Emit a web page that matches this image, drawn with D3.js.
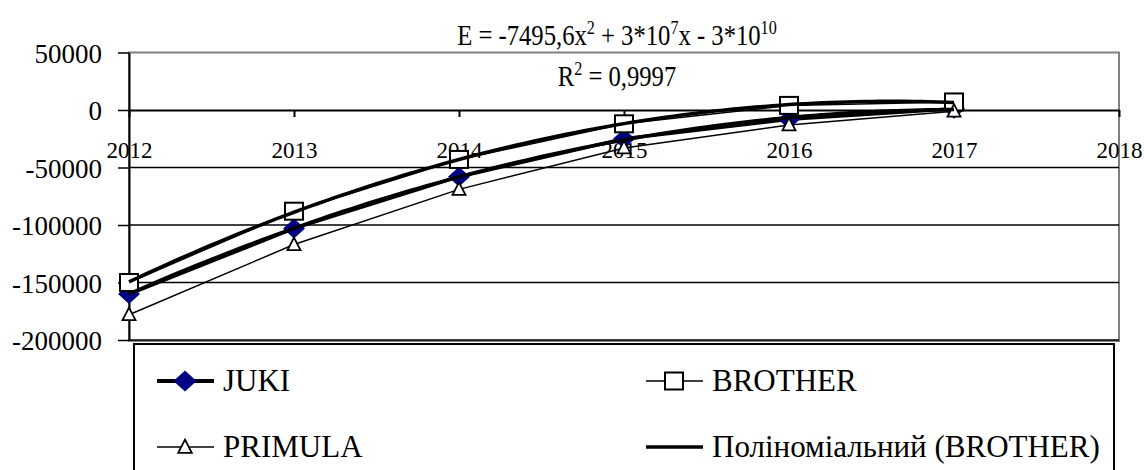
<!DOCTYPE html>
<html>
<head>
<meta charset="utf-8">
<script src="https://cdn.jsdelivr.net/npm/d3@7"></script>
</head>
<body style="margin:0;background:#fff">
<svg id="chart" width="1144" height="470" style="display:block"></svg>
<script>
const years = [2012, 2013, 2014, 2015, 2016, 2017]
const juki = [-160000, -103000, -58000, -25000, -8000, 1000]
const brother = [-150000, -88000, -43000, -12000, 4000, 7000]
const primula = [-178000, -117000, -69000, -33000, -13000, -1000]

const xTicks = [2012, 2013, 2014, 2015, 2016, 2017, 2018]
const yTicks = [50000, 0, -50000, -100000, -150000, -200000]

const legendNames = ['JUKI', 'BROTHER', 'PRIMULA', 'Поліноміальний (BROTHER)']

const FONT = 'Liberation Serif'

const svg = d3.select('#chart')

const x = d3.scaleLinear().domain([2012, 2018]).range([129, 1119])
const y = d3.scaleLinear().domain([-200000, 50000]).range([340, 52.5])

// quadratic least squares, same as the spreadsheet's polynomial trendline
const polyFit = (xs, ys) => {
	let t = xs.map(v => v - 2012)
	let S = k => d3.sum(t, v => Math.pow(v, k))
	let T = k => d3.sum(t, (v, i) => Math.pow(v, k) * ys[i])
	let m = [
		[S(0), S(1), S(2), T(0)],
		[S(1), S(2), S(3), T(1)],
		[S(2), S(3), S(4), T(2)]
	]
	for (let i = 0; i < 3; i++) {
		for (let j = i + 1; j < 3; j++) {
			let f = m[j][i] / m[i][i]
			for (let k = i; k < 4; k++) m[j][k] -= f * m[i][k]
		}
	}
	let c = [0, 0, 0]
	for (let i = 2; i >= 0; i--) {
		let s = m[i][3]
		for (let k = i + 1; k < 3; k++) s -= m[i][k] * c[k]
		c[i] = s / m[i][i]
	}
	return v => c[0] + c[1] * (v - 2012) + c[2] * (v - 2012) * (v - 2012)
}

// plot frame
svg.append('rect')
.attr('x', x(2012)).attr('y', y(50000))
.attr('width', x(2018) - x(2012)).attr('height', 341 - y(50000))
.attr('fill', 'none').attr('stroke', '#808080').attr('stroke-width', 2)

svg.append('g')
.selectAll('line')
.data(yTicks.filter(v => v < 50000 && v !== 0))
.enter()
.append('line')
.attr('x1', x(2012)).attr('x2', x(2018))
.attr('y1', d => y(d)).attr('y2', d => y(d))
.attr('stroke', '#000').attr('stroke-width', 1.5)

// axes
const yAxis = svg.append('g')
.attr('transform', `translate(${x(2012)},0)`)
.call(d3.axisLeft(y).tickValues(yTicks).tickSize(11).tickSizeOuter(0).tickPadding(16).tickFormat(d => d))

const xAxis = svg.append('g')
.attr('transform', `translate(0,${y(0)})`)
.call(d3.axisBottom(x).tickValues(xTicks).tickSize(7).tickSizeOuter(0).tickFormat(d => d))

yAxis.attr('font-family', FONT).attr('font-size', 27)
xAxis.attr('font-family', FONT).attr('font-size', 23)
svg.selectAll('.tick text').attr('fill', '#000')
yAxis.selectAll('text').attr('dy', '0.36em')
xAxis.selectAll('text').attr('y', 48).attr('dy', 0)

svg.selectAll('.domain, .tick line').attr('stroke', '#000').attr('stroke-width', 2)
yAxis.selectAll('.tick line').attr('stroke-width', 1.5)

const line = d3.line().x(d => x(d[0])).y(d => y(d[1]))

const series = [
	{ name: 'JUKI', vals: juki, width: 3.5, marker: 'diamond' },
	{ name: 'BROTHER', vals: brother, width: 1.5, marker: 'square' },
	{ name: 'PRIMULA', vals: primula, width: 1.5, marker: 'triangle' }
]

series.map(s => {
	svg.append('path')
	.datum(years.map((yr, i) => [yr, s.vals[i]]))
	.attr('d', line)
	.attr('fill', 'none')
	.attr('stroke', '#000')
	.attr('stroke-width', s.width)
})

const drawMarker = (g, type, cx, cy, scale) => {
	if (type === 'diamond') {
		g.append('path')
		.attr('d', `M${cx},${cy - 10 * scale}L${cx + 11 * scale},${cy}L${cx},${cy + 10 * scale}L${cx - 11 * scale},${cy}Z`)
		.attr('fill', '#000080')
	} else if (type === 'square') {
		g.append('rect')
		.attr('x', cx - 9 * scale).attr('y', cy - 8.5 * scale)
		.attr('width', 18 * scale).attr('height', 17 * scale)
		.attr('fill', '#fff').attr('stroke', '#000').attr('stroke-width', 2)
	} else {
		g.append('path')
		.attr('d', `M${cx},${cy - 7 * scale}L${cx + 6.5 * scale},${cy + 5.5 * scale}L${cx - 6.5 * scale},${cy + 5.5 * scale}Z`)
		.attr('fill', '#fff').attr('stroke', '#000').attr('stroke-width', 1.8)
	}
}

const markers = svg.append('g')
series.map(s => {
	years.map((yr, i) => drawMarker(markers, s.marker, x(yr), y(s.vals[i]), 1))
})

// trendlines
const samples = d3.range(2012, 2017.0001, 0.05)
;[juki, brother].map(vals => {
	let f = polyFit(years, vals)
	svg.append('path')
	.datum(samples.map(v => [v, f(v)]))
	.attr('d', line)
	.attr('fill', 'none')
	.attr('stroke', '#000')
	.attr('stroke-width', 3.5)
})

// trendline label
const eq = svg.append('text')
.attr('transform', 'translate(617,45) scale(0.85,1)')
.attr('text-anchor', 'middle')
.attr('font-family', FONT)
.attr('font-size', 29)
.attr('fill', '#000')

eq.append('tspan').text('E = -7495,6x')
eq.append('tspan').attr('dy', -11).attr('font-size', 19).text('2')
eq.append('tspan').attr('dy', 11).text(' + 3*10')
eq.append('tspan').attr('dy', -11).attr('font-size', 19).text('7')
eq.append('tspan').attr('dy', 11).text('x - 3*10')
eq.append('tspan').attr('dy', -11).attr('font-size', 19).text('10')

const r2 = svg.append('text')
.attr('transform', 'translate(617,86) scale(0.85,1)')
.attr('text-anchor', 'middle')
.attr('font-family', FONT)
.attr('font-size', 29)
.attr('fill', '#000')

r2.append('tspan').text('R')
r2.append('tspan').attr('dy', -11).attr('font-size', 19).text('2')
r2.append('tspan').attr('dy', 11).text(' = 0,9997')

// legend
svg.append('rect')
.attr('x', 134).attr('y', 344)
.attr('width', 980).attr('height', 200)
.attr('fill', '#fff').attr('stroke', '#000').attr('stroke-width', 2)

const legendCols = [157, 646]
const legendRows = [381, 447]
const legendItems = [
	{ col: 0, row: 0, width: 4, marker: 'diamond' },
	{ col: 1, row: 0, width: 1.5, marker: 'square' },
	{ col: 0, row: 1, width: 1.5, marker: 'triangle' },
	{ col: 1, row: 1, width: 3.5, marker: null }
]

legendItems.map((d, i) => {
	let lx = legendCols[d.col]
	let ly = legendRows[d.row]
	let g = svg.append('g')
	g.append('line')
	.attr('x1', lx).attr('x2', lx + 57)
	.attr('y1', ly).attr('y2', ly)
	.attr('stroke', '#000').attr('stroke-width', d.width)
	if (d.marker) drawMarker(g, d.marker, lx + 28, ly, d.marker === 'square' ? 1 : 1.05)
	g.append('text')
	.attr('x', lx + 66).attr('y', ly + 10)
	.attr('font-family', FONT)
	.attr('font-size', 31)
	.attr('fill', '#000')
	.text(legendNames[i])
})
</script>
</body>
</html>
